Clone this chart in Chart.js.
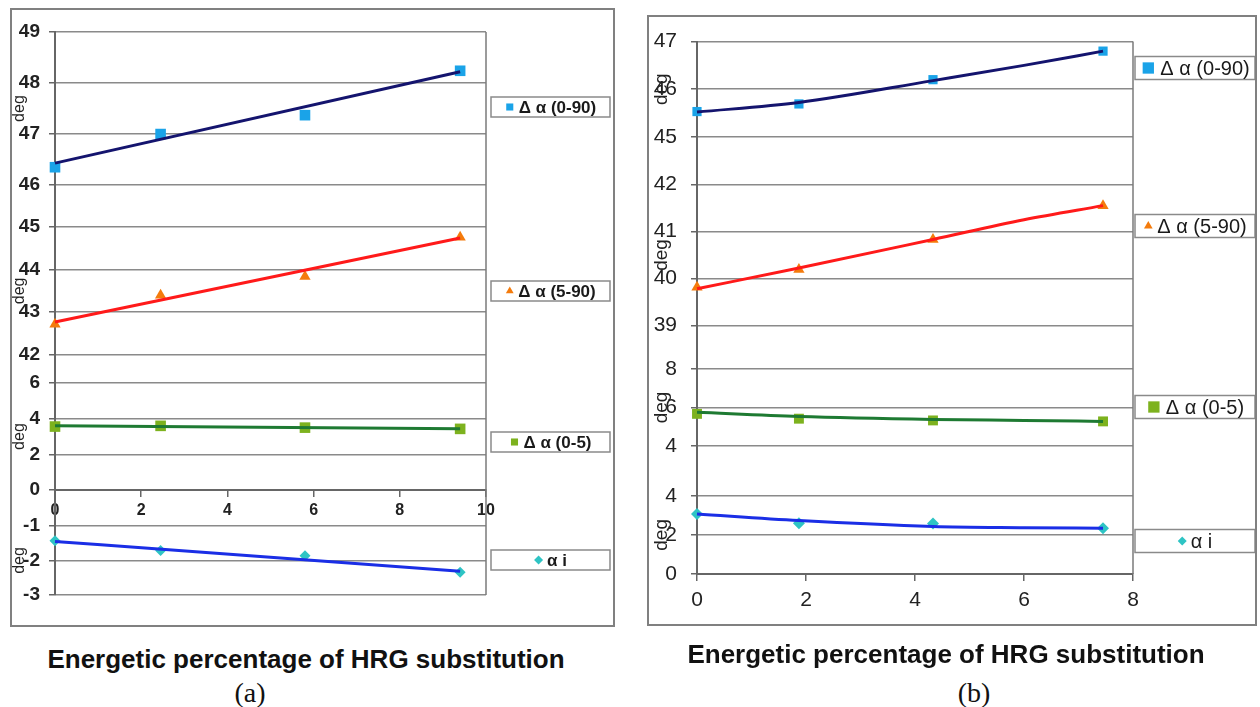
<!DOCTYPE html>
<html>
<head>
<meta charset="utf-8">
<script src="https://cdn.jsdelivr.net/npm/chart.js@4.4.1/dist/chart.umd.min.js"></script>
<style>
  body { margin: 0; background: #fff; width: 1260px; height: 707px; position: relative; overflow: hidden; font-family: "Liberation Sans", Arial, sans-serif; }
  canvas { position: absolute; }
  .frame { position: absolute; border: 2px solid #808080; box-sizing: border-box; pointer-events: none; }
  .caption { position: absolute; width: 600px; text-align: center; font-weight: bold; font-size: 26px; line-height: 26px; color: #111; white-space: nowrap; }
  .tag { position: absolute; width: 80px; text-align: center; font-family: "Liberation Serif", "Times New Roman", serif; font-size: 28px; line-height: 28px; color: #111; }
</style>
</head>
<body>
<canvas id="chartA" width="605" height="619" style="left:10px;top:8px"></canvas>
<div class="frame" style="left:10px;top:8px;width:605px;height:619px"></div>
<canvas id="chartB" width="610" height="611" style="left:647px;top:15px"></canvas>
<div class="frame" style="left:647px;top:15px;width:610px;height:611px"></div>

<div class="caption" style="left:6px;top:646px">Energetic percentage of HRG substitution</div>
<div class="tag" style="left:210px;top:679px">(a)</div>
<div class="caption" style="left:646px;top:641px">Energetic percentage of HRG substitution</div>
<div class="tag" style="left:934px;top:679px">(b)</div>

<script>
// --- 1. DATA ---
const seriesNames = ['Δ α (0-90)', 'Δ α (5-90)', 'Δ α (0-5)', 'α i'];

// panel (a)
const xA = [0, 2.45, 5.8, 9.4];
const d090A = [46.35, 47.0, 47.37, 48.24];
const d590A = [42.72, 43.4, 43.84, 44.76];
const d05A = [3.56, 3.6, 3.5, 3.43];
const aiA = [-1.43, -1.71, -1.86, -2.34];
// trendlines (a), read at both ends
const trendXA = [0, 9.4];
const t090A = [46.43, 48.22];
const t590A = [42.77, 44.74];
const t05A = [3.6, 3.44];
const taiA = [-1.45, -2.31];
const xTicksA = [0, 2, 4, 6, 8, 10];
const yTicksA = [[46, 47, 48, 49], [42, 43, 44, 45], [0, 2, 4, 6], [-3, -2, -1]];

// panel (b)
const xB = [0, 1.87, 4.33, 7.45];
const d090B = [45.53, 45.69, 46.2, 46.8];
const d590B = [39.81, 40.19, 40.83, 41.55];
const d05B = [5.67, 5.42, 5.33, 5.28];
const aiB = [3.07, 2.6, 2.58, 2.34];
// trendlines (b), slightly curved
const trendXB = [0, 1.87, 4.33, 6, 7.45];
const t090B = [45.52, 45.72, 46.18, 46.5, 46.8];
const t590B = [39.78, 40.22, 40.83, 41.25, 41.55];
const t05B = [5.75, 5.53, 5.38, 5.33, 5.28];
const taiB = [3.07, 2.73, 2.43, 2.37, 2.34];
const xTicksB = [0, 2, 4, 6, 8];
const yTicksB = [[45, 46, 47], [39, 40, 41, 42], [4, 6, 8], [0, 2, 4]];

// --- 2. STYLES ---
const pointColors = ['#1aa3e8', '#f47b0c', '#7db21e', '#2ec4c4'];
const trendColors = ['#14146e', '#ff1a1a', '#1e7a32', '#1a2ee6'];
const pointStyles = ['rect', 'triangle', 'rect', 'rectRot'];

function pts(xs, ys) {
    return xs.map((x, i) => ({ x: x, y: ys[i] }));
}

// --- 3. DECORATIONS: right border, "deg" titles, side legends ---
const panelDecor = {
    id: 'panelDecor',
    afterDraw(chart, args, opts) {
        const ctx = chart.ctx;
        const area = chart.chartArea;
        ctx.save();

        ctx.strokeStyle = '#7a7a7a';
        ctx.lineWidth = 1.5;
        ctx.beginPath();
        ctx.moveTo(area.right, area.top);
        ctx.lineTo(area.right, area.bottom);
        ctx.stroke();

        // axis titles
        ctx.fillStyle = '#222';
        ctx.font = opts.titleFont;
        ctx.textAlign = 'center';
        ctx.textBaseline = 'middle';
        opts.axisIds.forEach(id => {
            const s = chart.scales[id];
            const ys = s.ticks.map(t => s.getPixelForValue(t.value));
            const yMid = (Math.min(...ys) + Math.max(...ys)) / 2;
            ctx.save();
            ctx.translate(area.left - opts.titleGap, yMid);
            ctx.rotate(-Math.PI / 2);
            ctx.fillText('deg', 0, 0);
            ctx.restore();
        });

        // legend boxes, one per series
        ctx.font = opts.legendFont;
        ctx.textAlign = 'left';
        opts.legendY.forEach((y, i) => {
            const ds = chart.data.datasets[i];
            const h = opts.legendH;
            ctx.fillStyle = '#fff';
            ctx.fillRect(opts.legendX, y - h / 2, opts.legendW, h);
            ctx.strokeStyle = '#8a8a8a';
            ctx.lineWidth = 1.5;
            ctx.strokeRect(opts.legendX, y - h / 2, opts.legendW, h);

            const r = opts.markerR[i];
            const tw = ctx.measureText(ds.label).width;
            const total = 2 * r + 4 + tw;
            const start = opts.legendX + (opts.legendW - total) / 2;
            ctx.fillStyle = ds.backgroundColor;
            Chart.helpers.drawPoint(ctx, { pointStyle: ds.pointStyle, radius: r, rotation: 0, borderWidth: 0 }, start + r, y);
            ctx.fillStyle = '#1a1a1a';
            ctx.fillText(ds.label, start + 2 * r + 4, y + 1);
        });
        ctx.restore();
    }
};

// --- 4. PANEL BUILDER ---
function buildPanel(canvasId, p) {
    const axisIds = ['y1', 'y2', 'y3', 'y4'];
    const scales = {
        x: {
            type: 'linear', axis: 'x',
            min: 0, max: p.xMax,
            position: { [p.xAt[0]]: p.xAt[1] },
            afterBuildTicks: s => { s.ticks = p.xTicks.map(v => ({ value: v })); },
            ticks: { font: p.xFont, color: '#222', padding: p.xPad, autoSkip: false, maxRotation: 0 },
            grid: { drawOnChartArea: false, tickLength: 6, color: '#666', lineWidth: 1.5 },
            border: { color: '#666', width: 2 }
        }
    };
    axisIds.forEach((id, i) => {
        scales[id] = {
            type: 'linear', position: 'left',
            stack: 'deg', stackWeight: p.segHeights[i], weight: 10 - i,
            min: p.segRanges[i][0], max: p.segRanges[i][1],
            afterBuildTicks: s => { s.ticks = p.yTicks[i].map(v => ({ value: v })); },
            afterFit: s => { s.width = p.axisWidth; },
            ticks: { font: p.yFont, color: '#222', padding: p.yPad, autoSkip: false },
            grid: { color: '#8a8a8a', lineWidth: 1.5, tickLength: 6, tickColor: '#666' },
            border: { color: '#666', width: 2 }
        };
    });

    const datasets = [];
    p.values.forEach((vals, i) => {
        datasets.push({
            label: seriesNames[i],
            data: pts(p.x, vals),
            yAxisID: axisIds[i],
            showLine: false,
            pointStyle: pointStyles[i],
            pointRadius: p.pointR[i],
            backgroundColor: pointColors[i],
            borderColor: pointColors[i],
            borderWidth: 0,
            clip: false,
            order: 2
        });
    });
    p.trends.forEach((vals, i) => {
        datasets.push({
            label: 'trend ' + seriesNames[i],
            data: pts(p.trendX, vals),
            yAxisID: axisIds[i],
            showLine: true,
            pointRadius: 0,
            borderColor: trendColors[i],
            borderWidth: 3,
            cubicInterpolationMode: 'monotone',
            clip: false,
            order: 1
        });
    });

    new Chart(document.getElementById(canvasId), {
        type: 'scatter',
        data: { datasets: datasets },
        options: {
            responsive: false,
            animation: false,
            devicePixelRatio: 1,
            layout: { padding: p.padding },
            scales: scales,
            plugins: {
                legend: { display: false },
                tooltip: { enabled: false },
                panelDecor: {
                    axisIds: axisIds,
                    titleFont: p.titleFont,
                    titleGap: 35,
                    legendFont: p.legendFont,
                    legendX: p.legendX,
                    legendW: p.legendW,
                    legendH: p.legendH,
                    legendY: p.legendY,
                    markerR: p.markerR
                }
            }
        },
        plugins: [panelDecor]
    });
}

// --- 5. DRAW BOTH PANELS ---
buildPanel('chartA', {
    x: xA, values: [d090A, d590A, d05A, aiA],
    trendX: trendXA, trends: [t090A, t590A, t05A, taiA],
    xMax: 10, xTicks: xTicksA, xAt: ['y3', 0],
    yTicks: yTicksA,
    segRanges: [[45.59, 49], [41.67, 45.49], [-1.01, 6.79], [-3, -0.48]],
    segHeights: [174, 163, 139, 87],
    axisWidth: 45,
    padding: { left: 0, top: 24, right: 129, bottom: 32 },
    yFont: { family: 'Liberation Sans', size: 19, weight: 'bold' },
    xFont: { family: 'Liberation Sans', size: 16, weight: 'bold' },
    yPad: 9, xPad: 5,
    pointR: [7.5, 6.5, 7.5, 5.5],
    titleFont: '16px "Liberation Sans"',
    legendFont: 'bold 17px "Liberation Sans"',
    legendX: 481, legendW: 119, legendH: 20,
    legendY: [99, 283, 434, 552],
    markerR: [5, 4.5, 5, 4.5]
});

buildPanel('chartB', {
    x: xB, values: [d090B, d590B, d05B, aiB],
    trendX: trendXB, trends: [t090B, t590B, t05B, taiB],
    xMax: 8, xTicks: xTicksB, xAt: ['y4', 0],
    yTicks: yTicksB,
    segRanges: [[44.5, 47], [38.54, 42.51], [2.72, 9.13], [0, 5.27]],
    segHeights: [120, 188, 125, 104],
    axisWidth: 50,
    padding: { left: 0, top: 22, right: 124, bottom: 52 },
    yFont: { family: 'Liberation Sans', size: 21 },
    xFont: { family: 'Liberation Sans', size: 21 },
    yPad: 14, xPad: 8,
    pointR: [6.5, 6.5, 7, 6],
    titleFont: '19px "Liberation Sans"',
    legendFont: '20px "Liberation Sans"',
    legendX: 488, legendW: 120, legendH: 23,
    legendY: [53, 211, 392, 526],
    markerR: [8, 5, 8, 4.5]
});
</script>
</body>
</html>
